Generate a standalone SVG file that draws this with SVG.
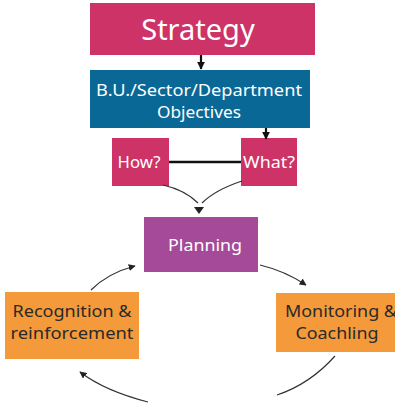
<svg xmlns="http://www.w3.org/2000/svg" width="395" height="405" viewBox="0 0 395 405">
<defs>
<style>
.t{font-family:"Noto Sans","DejaVu Sans",sans-serif;text-anchor:middle}
.w{fill:#fff}
.d{fill:#2a2a2a}
.c{fill:none;stroke:#333;stroke-width:1.2}
</style>
<marker id="ah" viewBox="0 0 10 10" refX="9" refY="5" markerWidth="7" markerHeight="7" orient="auto" markerUnits="userSpaceOnUse">
<path d="M0,0 L10,5 L0,10 z" fill="#222"/>
</marker>
<marker id="ab" viewBox="0 0 10 10" refX="9" refY="5" markerWidth="8" markerHeight="8" orient="auto" markerUnits="userSpaceOnUse">
<path d="M0,0 L10,5 L0,10 z" fill="#111"/>
</marker>
</defs>
<g id="strategy">
<rect x="90" y="3" width="225" height="52" fill="#CD3366"/>
<text class="t w" x="198" y="40" font-size="29">Strategy</text>
</g>
<g id="objectives">
<rect x="90" y="70" width="220" height="58" fill="#0A6896"/>
<text class="t w" x="199" y="96" font-size="16" textLength="206" lengthAdjust="spacingAndGlyphs">B.U./Sector/Department</text>
<text class="t w" x="199" y="118" font-size="16" textLength="84" lengthAdjust="spacingAndGlyphs">Objectives</text>
</g>
<g id="how">
<rect x="112" y="138" width="57" height="48" fill="#CD3366"/>
<text class="t w" x="139" y="168" font-size="16" textLength="43" lengthAdjust="spacingAndGlyphs">How?</text>
</g>
<g id="what">
<rect x="241" y="138" width="56" height="48" fill="#CD3366"/>
<text class="t w" x="269" y="168" font-size="16" textLength="52" lengthAdjust="spacingAndGlyphs">What?</text>
</g>
<g id="planning">
<rect x="144" y="217" width="114" height="55" fill="#A54A98"/>
<text class="t w" x="205" y="251" font-size="17" textLength="74" lengthAdjust="spacingAndGlyphs">Planning</text>
</g>
<g id="recognition">
<rect x="5" y="292" width="134" height="67" fill="#F49A3A"/>
<text class="t d" x="72" y="317" font-size="16" textLength="119" lengthAdjust="spacingAndGlyphs">Recognition &amp;</text>
<text class="t d" x="72" y="339" font-size="16" textLength="123" lengthAdjust="spacingAndGlyphs">reinforcement</text>
</g>
<g id="monitoring">
<rect x="276" y="293" width="125" height="59" fill="#F49A3A"/>
<text class="t d" x="341" y="317" font-size="16" textLength="112" lengthAdjust="spacingAndGlyphs">Monitoring &amp;</text>
<text class="t d" x="337" y="339" font-size="16" textLength="83" lengthAdjust="spacingAndGlyphs">Coachling</text>
</g>
<g id="connectors">
<line x1="201" y1="55" x2="201" y2="69" stroke="#111" stroke-width="2.2" marker-end="url(#ab)"/>
<line x1="266" y1="128" x2="266" y2="139" stroke="#111" stroke-width="2.2" marker-end="url(#ab)"/>
<line x1="169" y1="162" x2="241" y2="162" stroke="#111" stroke-width="2.5"/>
<path class="c" d="M163,185 Q185,190 198,203"/>
<path class="c" d="M242,181 Q215,190 202,203"/>
<path d="M194,207 L204,207 L199,214 z" fill="#222"/>
<path class="c" d="M260,265 Q285,271 306,285" marker-end="url(#ah)"/>
<path class="c" d="M335,356 Q310,384 277,395"/>
<path class="c" d="M148,402 Q105,391 80,372" marker-end="url(#ah)"/>
<path class="c" d="M91,290 Q108,273 135,266" marker-end="url(#ah)"/>
</g>
</svg>
